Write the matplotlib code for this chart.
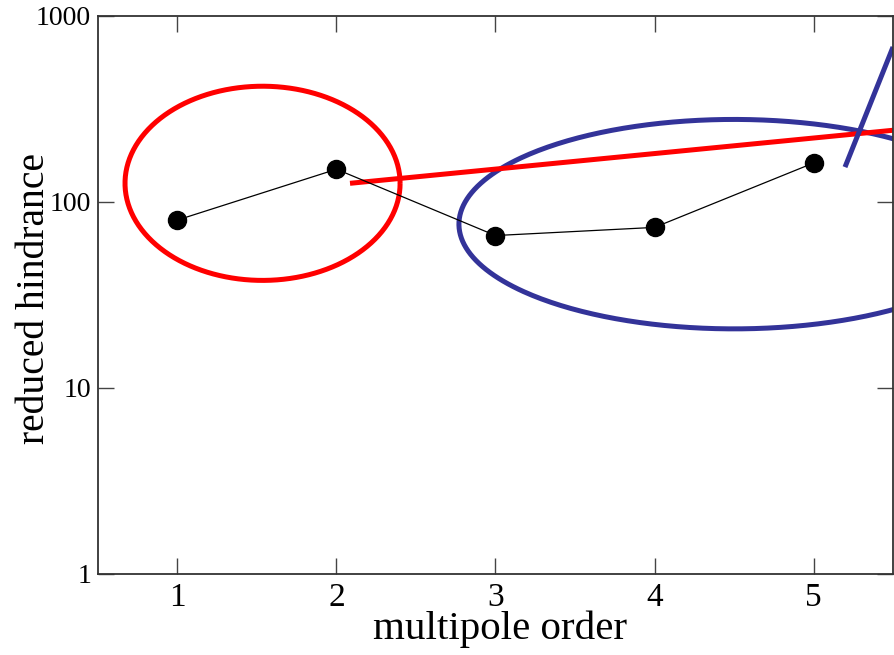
import numpy as np
import matplotlib
matplotlib.use("Agg")
import matplotlib.pyplot as plt
from matplotlib.ticker import FixedLocator, NullLocator, FixedFormatter

# Reduced hindrance versus multipole order
order = [1, 2, 3, 4, 5]
hindrance = [80, 150, 66, 73, 162]

x_ticks = [1, 2, 3, 4, 5]
y_ticks = [1, 10, 100, 1000]
y_tick_labels = ["1", "10", "100", "1000"]

# Highlight ellipses: (x centre, y centre, x half-width, half-height in decades)
red_ellipse = (1.535, 126, 0.865, 0.522)
blue_ellipse = (4.5, 76, 1.73, 0.563)

# Guide lines (x values, y values)
red_line_x = [2.085, 5.5]
red_line_y = [126, 243]
blue_line_x = [5.198, 5.5]
blue_line_y = [154, 681]

RED = "#ff0000"
BLUE = "#333399"

plt.rcParams["font.family"] = ["Liberation Serif", "DejaVu Serif"]

fig = plt.figure(figsize=(8.94, 6.55), dpi=100)
ax = fig.add_axes([0.1096, 0.1237, 0.8893, 0.8519])

ax.set_yscale("log")
ax.set_xlim(0.5, 5.5)
ax.set_ylim(1, 1000)

ax.plot(order, hindrance, color="black", lw=0.9, marker="o",
        markersize=13, markerfacecolor="black", markeredgecolor="black", zorder=3)


def draw_ellipse(params, color):
    cx, cy, a, b = params
    t = np.linspace(0, 2 * np.pi, 400)
    xs = cx + a * np.cos(t)
    ys = 10 ** (np.log10(cy) + b * np.sin(t))
    ax.plot(xs, ys, color=color, lw=3.6, solid_capstyle="butt", zorder=2)


draw_ellipse(red_ellipse, RED)
draw_ellipse(blue_ellipse, BLUE)
ax.plot(red_line_x, red_line_y, color=RED, lw=3.6, solid_capstyle="butt", zorder=2)
ax.plot(blue_line_x, blue_line_y, color=BLUE, lw=3.6, solid_capstyle="butt", zorder=2)

ax.xaxis.set_major_locator(FixedLocator(x_ticks))
ax.yaxis.set_major_locator(FixedLocator(y_ticks))
ax.yaxis.set_major_formatter(FixedFormatter(y_tick_labels))
ax.yaxis.set_minor_locator(NullLocator())
ax.xaxis.set_minor_locator(NullLocator())

ax.tick_params(axis="both", which="major", direction="in", length=11.5,
               width=1.0, color="#444444", top=True, right=True)
ax.tick_params(axis="x", labelsize=24, pad=6)
ax.tick_params(axis="y", labelsize=20, pad=5)
for s in ax.spines.values():
    s.set_linewidth(1.3)
    s.set_color("#333333")

ax.set_xlabel("multipole order", fontsize=29.5)
ax.set_ylabel("reduced hindrance", fontsize=28.5)
ax.xaxis.set_label_coords(0.506, -0.066)
ax.yaxis.set_label_coords(-0.057, 0.494)

fig.savefig("out.png", dpi=100)
